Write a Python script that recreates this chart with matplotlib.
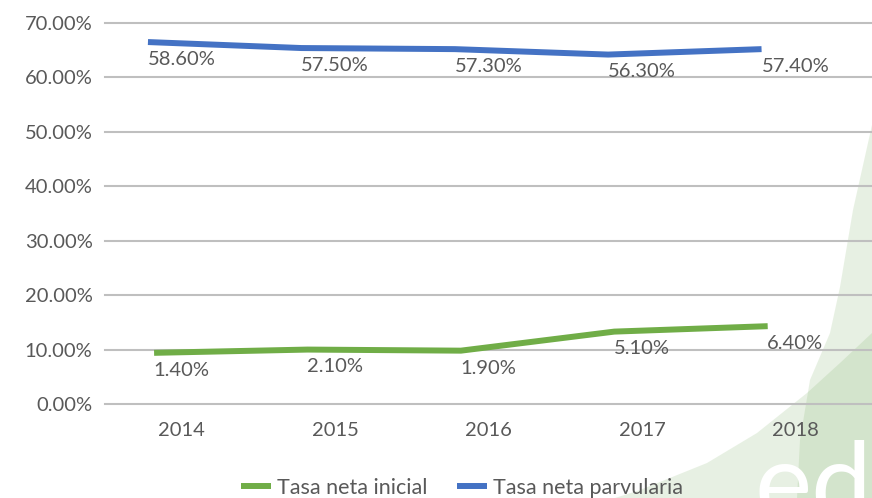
import matplotlib
matplotlib.use('Agg')
import matplotlib.pyplot as plt
from matplotlib.patches import Polygon
import numpy as np

# Data
years = ['2014', '2015', '2016', '2017', '2018']
parvularia = [66.5, 65.4, 65.2, 64.2, 65.2]
inicial = [9.4, 10.0, 9.8, 13.3, 14.3]
parvularia_labels = ['58.60%', '57.50%', '57.30%', '56.30%', '57.40%']
inicial_labels = ['1.40%', '2.10%', '1.90%', '5.10%', '6.40%']
y_ticks = [0, 10, 20, 30, 40, 50, 60, 70]
y_tick_labels = ['0.00%', '10.00%', '20.00%', '30.00%', '40.00%', '50.00%', '60.00%', '70.00%']
series_names = ['Tasa neta inicial', 'Tasa neta parvularia']

W, H = 872, 498
BLUE = '#4472C4'
GREEN = '#70AD47'
GRID = '#BFBFBF'
TEXT = '#595959'
FS = 14.5

plt.rcParams['font.family'] = ['Lato', 'DejaVu Sans']

fig = plt.figure(figsize=(W / 100, H / 100), dpi=100)


def px(points):
    return [(x / W, 1 - y / H) for x, y in points]


# Background watermark shapes (pixel outlines)
shape_a = [(872, 125), (853, 210), (840, 287), (830, 333), (810, 380), (800, 440), (797, 498), (872, 498)]
shape_c = [(615, 498), (640, 490), (707, 463), (757, 433), (807, 393), (840, 363), (872, 333), (872, 498)]
for shp in (shape_a, shape_c):
    fig.patches.append(Polygon(px(shp), closed=True, transform=fig.transFigure,
                               facecolor='#7DB065', alpha=0.18, edgecolor='none', zorder=-2))
fig.text(754 / W, 1 - 520 / H, 'ed', color='white', fontsize=78, ha='left', va='baseline', zorder=-1)

ax = fig.add_axes([105 / W, 1 - 404 / H, (W - 105) / W, (404 - 23) / H])
ax.patch.set_alpha(0)

x = np.arange(len(years))
ax.plot(x - 0.18, inicial, color=GREEN, linewidth=4.3, solid_capstyle='butt', label=series_names[0], zorder=3)
ax.plot(x - 0.22, parvularia, color=BLUE, linewidth=4.3, solid_capstyle='butt', label=series_names[1], zorder=3)

for i in range(len(years)):
    ax.annotate(parvularia_labels[i], (x[i], parvularia[i]), xytext=(0, -12.5), textcoords='offset points',
                ha='center', va='center', fontsize=FS, color=TEXT, zorder=4)
    ax.annotate(inicial_labels[i], (x[i], inicial[i]), xytext=(0, -12.5), textcoords='offset points',
                ha='center', va='center', fontsize=FS, color=TEXT, zorder=4)

ax.set_xlim(-0.5, len(years) - 0.5)
ax.set_ylim(0, 70)
ax.set_yticks(y_ticks)
ax.set_yticklabels(y_tick_labels)
ax.set_xticks(x)
ax.set_xticklabels(years)
ax.tick_params(axis='both', length=0, labelsize=FS, labelcolor=TEXT)
ax.tick_params(axis='y', pad=9)
ax.tick_params(axis='x', pad=13)

ax.yaxis.grid(True, color=GRID, linewidth=1.5)
for gl in ax.get_ygridlines():
    gl.set_clip_on(False)
ax.set_axisbelow(True)
for s in ax.spines.values():
    s.set_visible(False)

fig.legend(loc='center', bbox_to_anchor=(462 / W, 1 - 488 / H), ncol=2, frameon=False,
           fontsize=15.5, labelcolor=TEXT, handlelength=1.4, handletextpad=0.25, columnspacing=1.4)

fig.savefig('out.png', dpi=100)
